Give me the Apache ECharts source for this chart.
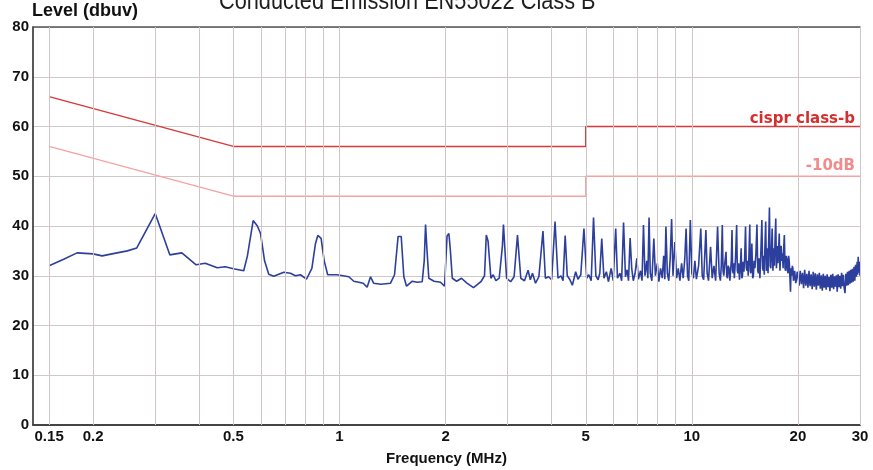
<!DOCTYPE html>
<html>
<head>
<meta charset="utf-8">
<script src="https://cdn.jsdelivr.net/npm/echarts@6/dist/echarts.min.js"></script>
<style>
html,body{margin:0;padding:0;background:#fff;}
#chart{width:873px;height:470px;}
</style>
</head>
<body>
<div id="chart"></div>
<script>
// ---- data ----
const titleText = 'Conducted Emission EN55022 Class B';
const gridFreqs = [0.15, 0.2, 0.3, 0.4, 0.5, 0.6, 0.7, 0.8, 0.9, 1, 2, 3, 4, 5, 6, 7, 8, 9, 10, 20, 30];
const tickFreqs = [0.15, 0.2, 0.5, 1, 2, 5, 10, 20, 30];
const tickLabels = ['0.15', '0.2', '0.5', '1', '2', '5', '10', '20', '30'];
const limitFreq = [0.15, 0.5, 5, 5, 30];
const limitClassB = [66, 56, 56, 60, 60];
const limitMinus10 = [56, 46, 46, 50, 50];
// emission trace: [frequency MHz, level dBuV]
const emissionTrace = [
[0.150,32.0],[0.165,33.3],[0.180,34.6],[0.200,34.4],[0.212,34.0],[0.230,34.5],[0.250,35.0],[0.266,35.6],
[0.300,42.5],[0.330,34.2],[0.357,34.6],[0.392,32.2],[0.416,32.5],[0.450,31.6],[0.474,31.8],[0.500,31.4],
[0.535,31.0],[0.548,34.0],[0.569,41.1],[0.585,40.0],[0.597,38.5],[0.613,33.0],[0.630,30.3],[0.651,29.9],
[0.695,30.7],[0.726,30.5],[0.750,30.0],[0.775,30.2],[0.806,29.3],[0.835,31.5],[0.855,36.5],[0.868,38.1],
[0.887,37.5],[0.905,33.0],[0.926,30.2],[0.985,30.2],[1.063,29.8],[1.098,28.9],[1.135,28.7],[1.168,28.5],
[1.198,27.7],[1.225,29.8],[1.250,28.5],[1.310,28.3],[1.396,28.5],[1.433,30.2],[1.467,37.9],[1.497,37.9],
[1.523,29.8],[1.550,27.9],[1.610,28.9],[1.660,28.7],[1.717,28.8],[1.740,33.0],[1.755,40.3],[1.772,35.0],
[1.793,29.5],[1.855,28.9],[1.936,28.7],[1.987,27.9],[2.020,38.0],[2.044,38.5],[2.062,35.5],[2.090,29.5],
[2.150,28.9],[2.220,29.5],[2.300,28.5],[2.400,27.6],[2.460,28.2],[2.520,28.8],[2.580,30.0],[2.610,38.2],
[2.640,37.0],[2.690,29.5],[2.730,30.2],[2.780,29.0],[2.840,29.5],[2.900,36.0],[2.920,40.3],[2.980,29.5],
[3.060,28.8],[3.130,29.8],[3.200,38.2],[3.270,29.5],[3.350,29.0],[3.430,31.1],[3.480,29.2],[3.530,30.5],
[3.600,28.5],[3.680,29.8],[3.780,39.0],[3.840,29.5],[3.920,29.8],[4.000,29.2],[4.090,40.9],[4.170,29.5],
[4.250,30.0],[4.310,29.0],[4.370,38.1],[4.430,30.0],[4.500,29.3],[4.580,28.1],[4.680,30.8],[4.750,29.3],
[4.840,30.2],[4.940,39.5],[5.030,29.5],[5.100,30.2],[5.180,29.0],[5.260,41.7],[5.340,30.0],[5.420,29.2],
[5.480,30.5],[5.550,37.5],[5.630,29.5],[5.720,30.8],[5.800,28.8],[5.900,31.5],[5.980,29.0],[6.080,39.5],
[6.150,29.5],[6.250,30.5],[6.320,29.0],[6.400,40.7],[6.480,29.8],[6.550,31.2],[6.610,29.0],[6.680,37.6],
[6.750,31.5],[6.820,29.0],[6.900,30.5],[6.980,33.5],[7.050,29.3],[7.150,31.0],[7.220,29.0],[7.290,40.2],
[7.360,30.0],[7.450,33.0],[7.500,29.5],[7.560,41.7],[7.620,30.5],[7.700,29.0],[7.800,37.5],[7.880,30.0],
[7.980,32.5],[8.060,28.8],[8.150,31.5],[8.240,29.5],[8.320,34.0],[8.380,29.3],[8.440,39.9],[8.520,30.5],
[8.600,29.0],[8.680,33.5],[8.760,41.4],[8.840,30.0],[8.950,36.8],[9.050,29.5],[9.150,31.5],[9.250,29.0],
[9.350,32.5],[9.450,29.5],[9.550,33.5],[9.630,39.5],[9.720,30.0],[9.800,29.0],[9.900,41.2],[10.00,30.5],
[10.10,29.5],[10.20,33.0],[10.30,29.3],[10.45,32.0],[10.60,39.5],[10.70,30.0],[10.80,29.2],[10.96,39.2],
[11.05,30.5],[11.15,29.0],[11.30,35.8],[11.42,29.5],[11.55,32.0],[11.68,29.0],[11.83,39.9],[11.95,30.5],
[12.05,29.0],[12.12,32.0],[12.20,40.2],[12.26,31.0],[12.32,30.0],[12.40,32.5],[12.50,34.8],[12.56,30.0],
[12.62,29.5],[12.68,32.0],[12.75,31.5],[12.82,29.0],[12.88,28.8],[12.94,33.0],[13.00,39.2],[13.05,31.0],
[13.10,30.5],[13.15,32.5],[13.20,29.5],[13.30,33.5],[13.40,40.2],[13.46,31.0],[13.52,30.5],[13.58,32.5],
[13.65,29.2],[13.72,31.5],[13.80,35.5],[13.86,29.5],[13.92,30.0],[13.98,32.8],[14.05,30.8],[14.12,33.5],
[14.20,39.9],[14.27,31.5],[14.35,31.0],[14.40,33.0],[14.45,30.0],[14.52,34.0],[14.60,40.3],[14.65,31.0],
[14.70,30.5],[14.75,33.0],[14.80,36.5],[14.88,29.5],[14.95,30.0],[15.02,33.0],[15.10,31.5],[15.20,34.5],
[15.30,40.3],[15.38,31.0],[15.45,30.5],[15.52,33.5],[15.60,29.5],[15.70,35.0],[15.80,41.2],[15.88,31.5],
[15.95,31.0],[16.00,34.0],[16.05,30.2],[16.12,36.0],[16.20,40.9],[16.28,31.0],[16.35,31.5],[16.40,35.5],
[16.45,30.5],[16.52,37.0],[16.60,43.7],[16.68,32.0],[16.75,31.5],[16.82,35.0],[16.90,39.5],[16.98,31.0],
[17.05,31.0],[17.10,35.5],[17.15,32.0],[17.22,37.0],[17.30,41.5],[17.38,31.5],[17.45,31.5],[17.50,36.0],
[17.55,32.5],[17.62,35.0],[17.70,38.5],[17.78,31.0],[17.85,31.0],[17.92,36.0],[18.00,33.0],[18.08,34.5],
[18.15,31.5],[18.22,35.5],[18.30,38.2],[18.38,31.5],[18.45,31.0],[18.52,34.0],[18.60,33.5],[18.68,31.0],
[18.75,30.5],[18.82,34.0],[18.90,32.8],[18.97,30.0],[19.05,26.8],[19.12,31.5],[19.20,30.0],[19.28,32.0],
[19.35,31.5],[19.42,29.0],[19.50,29.5],[19.58,31.0],[19.65,30.8],[19.72,28.5],[19.80,29.2],[19.90,30.8],
[20.00,30.2],[20.15,28.0],[20.30,31.0],[20.45,28.3],[20.60,30.6],[20.75,27.5],[20.90,31.2],[21.05,28.0],
[21.20,30.4],[21.35,27.6],[21.50,31.0],[21.65,27.9],[21.80,30.3],[21.95,27.3],[22.10,30.8],[22.25,27.8],
[22.40,30.5],[22.55,27.2],[22.70,30.3],[22.85,28.0],[23.00,30.6],[23.15,27.4],[23.30,30.1],[23.45,27.0],
[23.60,30.4],[23.75,27.6],[23.90,30.0],[24.05,27.2],[24.20,30.3],[24.35,27.7],[24.50,29.8],[24.65,26.9],
[24.80,30.2],[24.95,27.6],[25.10,30.4],[25.25,27.3],[25.40,29.9],[25.55,27.8],[25.70,30.1],[25.85,26.8],
[26.00,30.3],[26.15,27.7],[26.30,30.0],[26.45,27.4],[26.60,30.6],[26.75,27.9],[26.90,30.2],[27.05,27.6],
[27.20,26.5],[27.35,30.4],[27.50,28.0],[27.65,30.8],[27.80,28.1],[27.95,31.0],[28.10,28.4],[28.25,31.2],
[28.40,28.6],[28.55,31.4],[28.70,28.8],[28.85,31.8],[29.00,29.0],[29.15,32.2],[29.30,29.8],[29.45,32.8],
[29.55,30.2],[29.65,33.8],[29.75,30.6],[29.85,32.8],[30.00,30.0]
];

// ---- chart ----
const xMin = 0.135, xMax = 30;
const axisFont = 'Liberation Sans, Arial, sans-serif';
const labelFont = 'DejaVu Sans, Verdana, sans-serif';
const chart = echarts.init(document.getElementById('chart'), null, {renderer: 'canvas'});

function limitData(vals) {
  return limitFreq.map((f, i) => [f, vals[i]]);
}
function endMark(vals, text, color, dy) {
  const n = limitFreq.length - 1;
  return {
    silent: true, animation: false,
    symbol: 'circle', symbolSize: 0,
    label: {show: true, position: 'left', distance: 5, offset: [0, dy], formatter: text,
      color: color, fontWeight: 'bold', fontSize: 15, fontFamily: labelFont},
    data: [{coord: [limitFreq[n], vals[n]]}]
  };
}

const option = {
  animation: false,
  backgroundColor: '#fff',
  graphic: [{
    type: 'text', left: 219, top: -11, scaleX: 0.835, z: 10,
    style: {text: titleText, fill: '#1e1e1e',
      font: 'normal 26px "Liberation Sans", Arial, sans-serif'}
  }],
  grid: {left: 33, right: 13, top: 27, bottom: 45, containLabel: false, outerBoundsMode: 'none'},
  xAxis: [{
    type: 'log', min: xMin, max: xMax, logBase: 10,
    name: 'Frequency (MHz)', nameLocation: 'middle', nameGap: 26,
    nameTextStyle: {fontFamily: axisFont, fontWeight: 'bold', fontSize: 15, color: '#111'},
    axisLine: {show: true, lineStyle: {color: '#444', width: 2}},
    axisTick: {show: false}, axisLabel: {show: false}, splitLine: {show: false}
  }, {
    type: 'log', min: xMin, max: xMax, position: 'top',
    axisLine: {show: true, lineStyle: {color: '#555', width: 1.5}},
    axisTick: {show: false}, axisLabel: {show: false}, splitLine: {show: false}
  }],
  yAxis: {
    type: 'value', min: 0, max: 80, interval: 10,
    name: 'Level (dbuv)', nameLocation: 'end', nameGap: 3,
    nameTextStyle: {fontFamily: axisFont, fontWeight: 'bold', fontSize: 18, color: '#111', align: 'left', verticalAlign: 'bottom', padding: [0, 0, 0, -1]},
    axisLine: {show: true, lineStyle: {color: '#222', width: 1.5}},
    axisTick: {show: false},
    axisLabel: {fontFamily: axisFont, fontWeight: 'bold', fontSize: 15, color: '#111', margin: 4},
    splitLine: {show: true, lineStyle: {color: '#cfcaca', width: 1}}
  },
  series: [
    {
      type: 'line', name: 'grid', data: [], silent: true, z: 1,
      markLine: {
        silent: true, symbol: ['none', 'none'], animation: false,
        lineStyle: {color: '#d2c5c5', width: 1, type: 'solid'},
        label: {show: false},
        emphasis: {disabled: true},
        data: gridFreqs.map(f => {
          const idx = tickFreqs.indexOf(f);
          return [
            {coord: [f, 0], label: {show: idx >= 0, position: 'start', distance: 4, formatter: idx >= 0 ? tickLabels[idx] : '',
              fontFamily: axisFont, fontWeight: 'bold', fontSize: 15, color: '#111'}},
            {coord: [f, 80]}
          ];
        })
      }
    },
    {
      type: 'line', name: '-10dB', data: limitData(limitMinus10),
      showSymbol: false, symbol: 'none', z: 3,
      lineStyle: {color: '#f4a3a3', width: 1.5},
      markPoint: endMark(limitMinus10, '-10dB', '#f08c8c', -10)
    },
    {
      type: 'line', name: 'cispr class-b', data: limitData(limitClassB),
      showSymbol: false, symbol: 'none', z: 3,
      lineStyle: {color: '#d63a3a', width: 1.5},
      markPoint: endMark(limitClassB, 'cispr class-b', '#d42f2f', -7)
    },
    {
      type: 'line', name: 'emission', data: emissionTrace,
      showSymbol: false, symbol: 'none', z: 4,
      lineStyle: {color: '#2d3f9c', width: 1.6}
    }
  ]
};
chart.setOption(option);
</script>
</body>
</html>
